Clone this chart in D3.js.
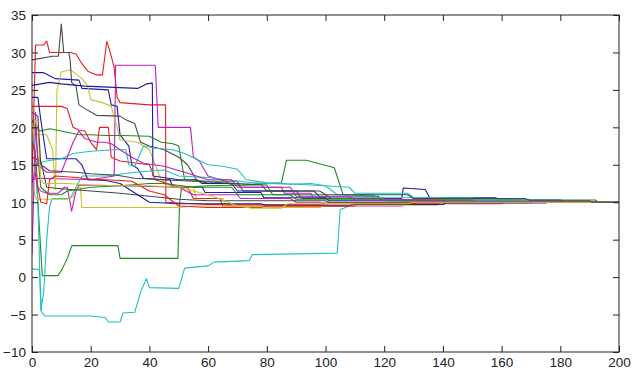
<!DOCTYPE html>
<html>
<head>
<meta charset="utf-8">
<script src="https://cdn.jsdelivr.net/npm/d3@7"></script>
<style>
  html, body { margin: 0; padding: 0; background: #fff; }
  svg { display: block; }
  .tick text { font-family: "Liberation Sans", Arial, sans-serif; font-size: 13.5px; fill: #222; }
</style>
</head>
<body>
<div id="chart"></div>
<script>
// axis ticks
const xTicks = [0, 20, 40, 60, 80, 100, 120, 140, 160, 180, 200];
const yTicks = [-10, -5, 0, 5, 10, 15, 20, 25, 30, 35];

// MATLAB default line colours (in draw order)
const colors = ["#1c1ca8", "#1f8a1f", "#e81e1e", "#22c0c0", "#c020c0", "#cbc22a", "#474747"];

// each series: [iteration, value]
const blue1 = [[0,27.3],[4,27.3],[8,26.5],[16,26.3],[17,25.2],[26,25],[27,23],[29,22.8],[30,19],[33,17.5],[34,15],[36,14.5],[38,13.2],[45,13],[47,13],[48,12],[58,12],[59,11.3],[78,11.3],[79,10.6],[100,10.6],[101,10.2],[140,10.2],[141,10],[200,10]];
const green1 = [[0,19],[1,16],[2,10],[3.5,0.2],[8.8,0.2],[10.2,1],[12,2.5],[13.6,4.2],[29.3,4.2],[30,2.5],[49.7,2.5],[50.3,10],[51,12],[60,12.2],[72,12.3],[85,12.6],[86.7,15.6],[93.5,15.6],[103,14.6],[106,11],[118,10.8],[119,10.3],[150,10.3],[151,10],[200,10]];
const red1 = [[0,13],[1.2,31],[4,31],[5,31.5],[6,30],[13,30],[15,29.8],[17,28.5],[19,27.5],[22,27],[24,27],[25.5,31.5],[27,29.5],[28,28],[29,24],[30,23.3],[40,23],[45.5,23],[45.6,10],[60,9.7],[98,9.7],[99,9.9],[140,9.9],[141,10],[200,10]];
const cyan1 = [[0,1.1],[2.5,1],[3.3,-4.7],[4.5,-5.2],[20,-5.2],[25,-5.4],[26,-6],[30,-6],[31,-4.8],[35,-4.7],[37,-2],[39,-0.2],[40,-1.4],[50,-1.5],[52,1.2],[60,1.5],[62,2],[74,2.2],[75,3],[104,3.2],[105,9],[108,9.5],[112,9.8],[130,9.8],[131,10],[200,10]];
const magenta1 = [[0,13],[2,13.2],[20,13],[28,13.5],[28.5,28.3],[42,28.3],[43,20],[54,20],[55,16],[57,15.5],[60,13.5],[66,12.8],[70,12.8],[71,12],[85,12],[86,11.2],[95,11.2],[96,10.5],[118,10.5],[119,10.3],[165,10.3],[166,10],[200,10]];
const yellow1 = [[0,19],[5,19],[7,17],[8,11.7],[8.5,25],[10,27.4],[13,27.7],[17,26.5],[19,25.5],[20,23.7],[24,23.3],[27,22.8],[29,20],[30,18.3],[36,18],[40,17],[44,13],[48,12],[55,12],[56,10.5],[65,10.5],[66,9.6],[100,9.6],[101,9.8],[140,9.8],[141,10],[200,10]];
const gray1 = [[0,29],[7,29.5],[9,29.5],[10,33.8],[10.8,30],[12.5,30],[13,29],[13.5,26],[15,25.5],[16,23],[18,22.5],[22,21.6],[30,21.5],[32,21],[35,20.5],[37,18],[40,17.5],[45,17],[50,16],[53,15],[56,13],[60,12.5],[70,12.5],[72,11.5],[90,11.5],[92,10.5],[125,10.5],[126,10.2],[160,10.2],[161,10],[200,10]];

const blue2 = [[0,25.6],[6,26],[10,25.8],[18,25.5],[30,25.3],[36,25.2],[39,25.8],[41,25.9],[41.2,13.5],[50,13],[56,13],[58,12.5],[68,12.5],[70,11.5],[96,11.5],[98,10.7],[118,10.7],[120,10.5],[126,10.5],[126.5,11.9],[134,11.7],[135.5,10.6],[158,10.6],[159,10.3],[180,10.3],[181,10],[200,10]];
const green2 = [[0,20],[3,19.5],[6,19.8],[10,19.5],[16,19],[20,19],[25,18.9],[31,18.9],[40,18.8],[44,18],[48,17.8],[50,17.5],[52,13],[60,12.8],[66,12.8],[68,12.3],[80,12.3],[82,11],[100,11],[102,10.5],[120,10.5],[121,10.2],[160,10.2],[161,10],[200,10]];
const red2 = [[0,22.8],[10,22.8],[12,22.5],[14,20],[16,19.6],[18,19.5],[20,18],[22,17],[23,20],[26,20],[27,16],[30,15.5],[40,15],[42,13],[50,12],[53,12],[55,10.5],[64,10.5],[65,9.5],[110,9.5],[111,9.8],[130,9.8],[131,10],[200,10]];
const cyan2 = [[0,19],[1,17],[2,10],[3,-4.5],[4,-2],[5,5],[6,9.5],[7,10.5],[13,10.5],[15,12],[17,13.5],[25,13.5],[35,14],[45,14.3],[50,13.5],[60,13.3],[75,12.6],[88,12.4],[95,12.5],[100,12.2],[104,11],[116,11],[118,10.6],[140,10.6],[141,10.3],[170,10.3],[171,10],[200,10]];
const magenta2 = [[0,12.5],[1,14],[2,12],[3,11.5],[5,11.2],[9,11.2],[11,12],[12,12],[13.5,8.8],[15,11.5],[16,12.3],[30,12.2],[40,12.1],[50,12],[55,11],[70,11],[71,10.5],[88,10.5],[90,10],[98,10],[100,9.5],[126,9.5],[127,9.8],[160,9.8],[161,10],[200,10]];
const yellow2 = [[0,12.5],[1,11],[1.5,10.4],[12,10.4],[14,10.7],[15,11.8],[16.5,12],[17,9.3],[50,9.3],[55,9.5],[78,9.5],[80,9.3],[98,9.3],[100,9.6],[138,9.6],[140,9.9],[170,9.9],[171,10],[200,10]];
const gray2 = [[0,16],[3,15.5],[5,12],[10,11.8],[20,11.5],[30,11.2],[40,10.8],[50,10.4],[60,10.2],[100,10.2],[101,10],[200,10]];

const blue3 = [[0,24],[2,24],[3,21],[5,15.8],[15,15.8],[17,15],[19,13],[25,12.9],[30,12.5],[36,11],[40,10],[50,9.8],[78,9.8],[80,9.6],[108,9.6],[110,9.7],[140,9.7],[141,9.9],[175,9.9],[176,10],[200,10]];
const green3 = [[0,21],[1,20],[3,12],[6,11],[10,11],[12,11.5],[20,12],[30,12.2],[40,12.5],[45,12.5],[55,12],[68,12],[70,11],[88,11],[90,10.4],[118,10.4],[120,10.3],[192,10.3],[193,10],[200,10]];
const red3 = [[0,18],[1,17],[2,12],[3,10],[5,9.8],[6,13],[8,13.5],[15,13.3],[20,13.1],[30,12.9],[34,12.8],[40,11.5],[45,11],[50,9.5],[60,9.3],[78,9.3],[80,9.5],[108,9.5],[110,9.8],[130,9.8],[131,10],[200,10]];
const cyan3 = [[0,15],[5,15.5],[10,15.8],[14,16.5],[20,16.8],[28,17],[32,17],[33,15],[35,14.8],[38,17.5],[42,17.2],[48,17],[52,16.5],[60,15],[65,14.8],[70,14.4],[73,13],[80,12.6],[95,12.3],[108,12],[110,11.2],[128,11.2],[130,10.6],[150,10.6],[151,10.3],[170,10.3],[171,10],[200,10]];
const magenta3 = [[0,3],[0.5,10],[1.2,22],[2,15],[5,14],[10,14],[12,16],[14,18],[16,19.5],[18,18.5],[22,18],[25,18],[27,17.8],[30,17],[34,16],[38,15.2],[45,14.8],[52,14],[60,13],[68,13],[70,12],[88,12],[90,10.8],[108,10.8],[110,10.3],[138,10.3],[140,10.1],[200,10]];
const yellow3 = [[0,18],[1,21],[2,20],[3,13],[4,12.5],[12,12.5],[20,12.3],[30,12.2],[40,12.2],[50,12],[60,11],[65,10.3],[70,9.5],[75,9.2],[85,9.2],[87,9.8],[128,9.8],[130,10],[200,10]];
const gray3 = [[0,22],[2,21.5],[3,15],[6,14.2],[15,14],[20,13.8],[29,13.6],[35,13.2],[45,13],[55,12.8],[75,12.4],[78,12.4],[80,11.5],[98,11.5],[100,11],[128,11],[130,10.5],[168,10.5],[170,10.2],[190,10.2],[191,10],[200,10]];

const series = [blue1, green1, red1, cyan1, magenta1, yellow1, gray1,
                blue2, green2, red2, cyan2, magenta2, yellow2, gray2,
                blue3, green3, red3, cyan3, magenta3, yellow3, gray3];

const width = 640, height = 370;
const margin = { top: 15, right: 21, bottom: 18, left: 32 };
const innerW = width - margin.left - margin.right;
const innerH = height - margin.top - margin.bottom;

const svg = d3.select("#chart").append("svg")
  .attr("width", width)
  .attr("height", height);

const g = svg.append("g")
  .attr("transform", `translate(${margin.left},${margin.top})`);

const x = d3.scaleLinear().domain([0, 200]).range([0, innerW]);
const y = d3.scaleLinear().domain([-10, 35]).range([innerH, 0]);

g.append("defs").append("clipPath").attr("id", "clip")
  .append("rect").attr("width", innerW).attr("height", innerH);

const line = d3.line()
  .x(d => x(d[0]))
  .y(d => y(d[1]));

g.append("g")
  .attr("clip-path", "url(#clip)")
  .selectAll("path")
  .data(series)
  .enter().append("path")
  .attr("d", line)
  .attr("fill", "none")
  .attr("stroke", (d, i) => colors[i % colors.length])
  .attr("stroke-width", 1.1)
  .attr("stroke-linejoin", "round");

// axes, ticks pointing inward like MATLAB
const tickLen = 6;
const axisColor = "#222";

const axBottom = g.append("g")
  .attr("transform", `translate(0,${innerH})`)
  .call(d3.axisBottom(x).tickValues(xTicks).tickSizeInner(-tickLen).tickSizeOuter(0).tickPadding(5));
const axLeft = g.append("g")
  .call(d3.axisLeft(y).tickValues(yTicks).tickSizeInner(-tickLen).tickSizeOuter(0).tickPadding(6));
const axTop = g.append("g")
  .call(d3.axisTop(x).tickValues(xTicks).tickSizeInner(-tickLen).tickSizeOuter(0).tickFormat(""));
const axRight = g.append("g")
  .attr("transform", `translate(${innerW},0)`)
  .call(d3.axisRight(y).tickValues(yTicks).tickSizeInner(-tickLen).tickSizeOuter(0).tickFormat(""));

[axBottom, axLeft, axTop, axRight].forEach(a => {
  a.select(".domain").remove();
  a.selectAll("line").attr("stroke", axisColor);
});
axBottom.selectAll("text").attr("dy", "0.71em");
axLeft.selectAll("text").attr("dy", "0.36em");

g.append("rect")
  .attr("width", innerW)
  .attr("height", innerH)
  .attr("fill", "none")
  .attr("stroke", axisColor)
  .attr("stroke-width", 1);
</script>
</body>
</html>
